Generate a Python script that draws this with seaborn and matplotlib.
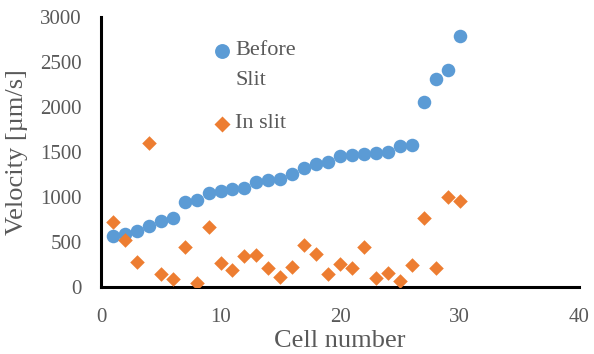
import numpy as np
import pandas as pd
import matplotlib
matplotlib.use("Agg")
import matplotlib.pyplot as plt
from matplotlib.ticker import MultipleLocator
import seaborn as sns

# Measured velocities per cell
cells = list(range(1, 31))
before_slit = [565, 585, 625, 680, 735, 765, 950, 965, 1050, 1065,
               1085, 1105, 1165, 1185, 1200, 1255, 1320, 1365, 1385, 1455,
               1465, 1480, 1490, 1505, 1570, 1580, 2055, 2310, 2410, 2785]
in_slit = [725, 525, 280, 1600, 150, 95, 440, 50, 670, 270,
           185, 345, 355, 215, 110, 225, 468, 365, 140, 260,
           208, 446, 104, 160, 67, 245, 766, 215, 996, 960]
series_names = ["Before\nSlit", "In slit"]

df_before = pd.DataFrame({"cell": cells, "velocity": before_slit})
df_in = pd.DataFrame({"cell": cells, "velocity": in_slit})

sns.set_style("white")
plt.rcParams["font.family"] = ["Liberation Serif", "DejaVu Serif"]
grey = "#595959"

fig = plt.figure(figsize=(5.94, 3.54), dpi=100)
ax = fig.add_axes([0.170, 0.189, 0.805, 0.763])

sns.scatterplot(data=df_before, x="cell", y="velocity", ax=ax, color="#5B9BD5",
                marker="o", s=95, linewidth=0, label=series_names[0], zorder=3)
sns.scatterplot(data=df_in, x="cell", y="velocity", ax=ax, color="#ED7D31",
                marker="D", s=55, linewidth=0, label=series_names[1], zorder=4)

ax.set_xlim(0, 40)
ax.set_ylim(0, 3000)
ax.xaxis.set_major_locator(MultipleLocator(10))
ax.xaxis.set_minor_locator(MultipleLocator(2))
ax.yaxis.set_major_locator(MultipleLocator(500))
ax.yaxis.set_minor_locator(MultipleLocator(100))

for side in ["top", "right"]:
    ax.spines[side].set_visible(False)
for side in ["left", "bottom"]:
    ax.spines[side].set_color("black")
    ax.spines[side].set_linewidth(2.2)

ax.tick_params(axis="both", which="both", direction="inout", length=6,
               width=1.6, color="black", labelcolor=grey, labelsize=15)
ax.tick_params(axis="x", which="major", pad=12)
ax.tick_params(axis="y", which="major", pad=11)

ax.set_xlabel("Cell number", fontsize=19, color=grey)
ax.set_ylabel("Velocity [µm/s]", fontsize=19, color=grey)
ax.xaxis.set_label_coords(0.5, -0.16)
ax.yaxis.set_label_coords(-0.153, 0.5)

leg = ax.legend(loc="upper left", bbox_to_anchor=(0.202, 0.952), frameon=False,
                fontsize=16, handletextpad=0.0, labelspacing=1.1,
                handlelength=1.2, borderpad=0, markerscale=1.1)
for t in leg.get_texts():
    t.set_color(grey)
    t.set_linespacing(1.75)
# align each legend marker with the first line of its label
for column in leg._legend_handle_box.get_children():
    for row in column.get_children():
        row.align = "top"

fig.savefig("out.png", dpi=100)
